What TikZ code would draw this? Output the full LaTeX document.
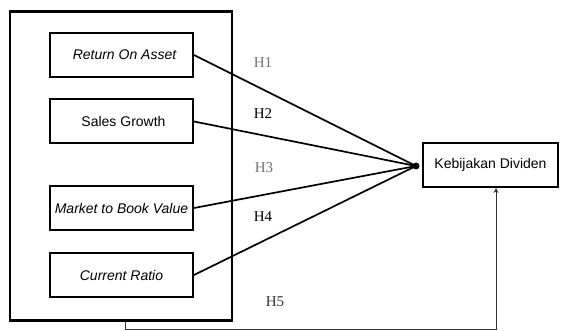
\documentclass[tikz,border=0pt]{standalone}
\usepackage{fontspec}
\setmainfont{Liberation Serif}
\setsansfont{Liberation Sans}
\usetikzlibrary{arrows.meta}
\begin{document}
\begin{tikzpicture}[x=1pt,y=-1pt,
  varbox/.style={draw, line width=2pt, minimum width=143pt, minimum height=44pt, inner sep=0pt, font=\sffamily\fontsize{14}{14}\selectfont},
  outerbox/.style={draw, line width=2.4pt, minimum width=222pt, minimum height=309pt, inner sep=0pt},
  path/.style={line width=1.7pt},
  hlab/.style={font=\fontsize{15}{15}\selectfont},
  conn/.style={line width=1pt, black!80, -{Stealth[length=5pt,width=5pt]}}]
\useasboundingbox (0,0) rectangle (561,331);
\node[outerbox] (outer) at (121,166) {};
\node[varbox] (roa) at (121.5,55) {\hspace{6pt}\itshape Return On Asset};
\node[varbox] (sg) at (121.5,121.5) {\hspace{4pt}Sales Growth};
\node[varbox] (mbv) at (121.5,208) {\itshape Market to Book Value};
\node[varbox] (cr) at (121.5,275) {\itshape Current Ratio};
\node[draw, line width=2pt, minimum width=135pt, minimum height=44pt, inner sep=0pt, font=\sffamily\fontsize{14}{14}\selectfont] (kd) at (490.5,165) {Kebijakan Dividen};
\node[circle, fill=black, inner sep=0pt, minimum size=7pt] (dot) at (416,166) {};
\draw[path] (roa.east) -- (dot.center);
\draw[path] (sg.east) -- (dot.center);
\draw[path] (mbv.east) -- (dot.center);
\draw[path] (cr.east) -- (dot.center);
\node[hlab, text=black!55] (h1) at (263,63) {H1};
\node[hlab] (h2) at (263,114) {H2};
\node[hlab, text=black!55] (h3) at (264,168) {H3};
\node[hlab] (h4) at (263,217) {H4};
\node[hlab, text=black!80] (h5) at (275,302) {H5};
\coordinate (c1) at ([xshift=4pt]outer.south);
\draw[conn] (c1) -- ++(0,8) -| ([xshift=5.5pt]kd.south);
\end{tikzpicture}
\end{document}
